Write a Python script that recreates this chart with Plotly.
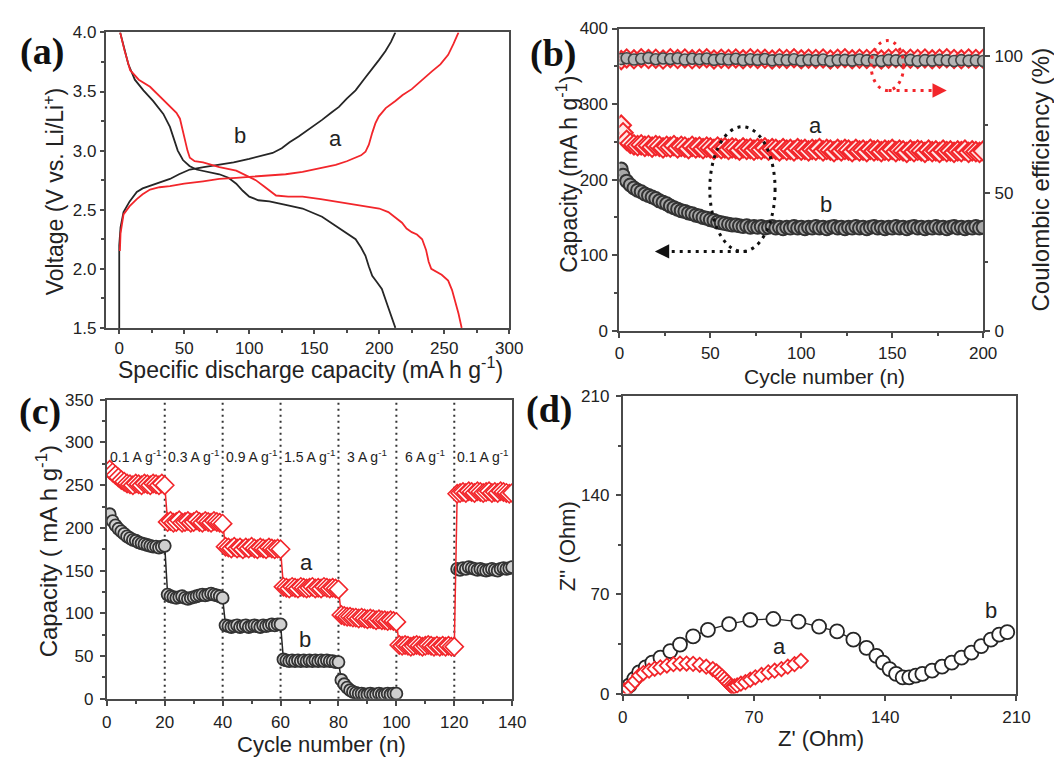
import plotly.graph_objects as go

W, H = 1054, 767
RED = '#f2262b'
BLK = '#262626'
AX = '#4a4a4a'

# ---------------- Panel (a): charge/discharge profiles ----------------
a_dis_b_x = [0.7, 3, 7, 12, 18.6, 26, 33.9, 39, 42, 45, 49, 54, 59.4, 68, 77, 84, 90, 95, 100, 107,
             115.5, 128, 141, 156, 166.5, 175, 181.8, 186, 189.4, 192, 194.6, 198, 202, 207, 210, 212.4]
a_dis_b_y = [4.0, 3.9, 3.73, 3.6, 3.51, 3.42, 3.31, 3.2, 3.1, 3.0, 2.92, 2.87, 2.84, 2.82, 2.8, 2.77, 2.72,
             2.66, 2.61, 2.58, 2.57, 2.54, 2.51, 2.44, 2.36, 2.3, 2.25, 2.18, 2.11, 2.02, 1.94, 1.89, 1.83,
             1.67, 1.58, 1.5]
a_chg_b_x = [0, 0, 1, 3.3, 8, 13.5, 18, 23.7, 31, 39, 46, 54.3, 65, 77, 88, 100, 110, 118, 125, 131, 138,
             146, 156, 163, 169, 175, 181.8, 188, 194.6, 200, 204.7, 209, 212.4]
a_chg_b_y = [1.5, 2.2, 2.35, 2.48, 2.57, 2.65, 2.68, 2.7, 2.73, 2.76, 2.8, 2.84, 2.86, 2.88, 2.9, 2.93,
             2.96, 2.98, 3.02, 3.07, 3.12, 3.18, 3.26, 3.32, 3.37, 3.44, 3.51, 3.6, 3.69, 3.77, 3.84, 3.92, 4.0]
a_dis_a_x = [0.7, 4, 8.4, 15, 23.7, 31, 39, 44, 46.7, 48.5, 50.5, 52.5, 54.3, 58, 64.5, 77, 90, 98, 105,
             111, 115.5, 120.6, 130, 141, 155, 166.5, 180, 192, 200, 207, 212, 217.5, 221, 225, 229, 233,
             236, 238, 240, 243, 248, 253, 256, 258, 261, 263.4]
a_dis_a_y = [4.0, 3.85, 3.68, 3.6, 3.54, 3.46, 3.38, 3.32, 3.27, 3.18, 3.1, 3.0, 2.94, 2.91, 2.9, 2.86,
             2.83, 2.79, 2.75, 2.7, 2.66, 2.62, 2.61, 2.61, 2.59, 2.57, 2.55, 2.53, 2.51, 2.48, 2.44, 2.39,
             2.34, 2.31, 2.29, 2.25, 2.16, 2.06, 2.0, 1.98, 1.95, 1.9, 1.82, 1.74, 1.62, 1.5]
a_chg_a_x = [0.5, 1, 3.3, 8, 13.5, 18, 23.7, 31, 39, 50, 64.5, 77, 90, 103, 115.5, 128, 141, 154, 166.5,
             175, 181.8, 186, 189.4, 192, 194.6, 197, 199.7, 205, 212.4, 218, 225, 232, 240.5, 247, 253,
             257, 261]
a_chg_a_y = [2.15, 2.3, 2.46, 2.53, 2.59, 2.63, 2.67, 2.69, 2.7, 2.72, 2.74, 2.76, 2.77, 2.78, 2.79, 2.8,
             2.82, 2.85, 2.88, 2.91, 2.94, 2.96, 2.99, 3.05, 3.15, 3.23, 3.29, 3.36, 3.42, 3.47, 3.52, 3.59,
             3.67, 3.73, 3.81, 3.9, 4.0]

# ---------------- Panel (b): cycling ----------------
b_cycles = [1] + list(range(2, 201, 2))
b_cap_a = [272, 262, 252, 248, 246, 245, 246, 244, 245, 243, 245,
           244, 242, 244, 243, 245, 242, 244, 243, 241, 244,
           242, 243, 241, 243, 242, 240, 243, 241, 242, 240,
           242, 241, 239, 242, 240, 241, 239, 241, 240, 242,
           239, 241, 240, 238, 241, 239, 240, 238, 241, 239,
           240, 238, 240, 239, 241, 238, 240, 239, 237, 240,
           238, 240, 239, 237, 240, 238, 239, 237, 240, 238,
           239, 237, 239, 238, 240, 237, 239, 238, 236, 239,
           237, 239, 238, 236, 239, 237, 238, 236, 239, 237,
           238, 236, 238, 237, 239, 236, 238, 237, 236, 238]
b_cap_b = [214, 206, 198, 193, 189, 186, 184, 181, 179, 177, 175,
           172, 170, 168, 165, 163, 161, 159, 158, 156, 155,
           153, 152, 150, 149, 147, 146, 144, 143, 142, 141,
           140, 140, 139, 138, 139, 137, 138, 137, 138, 136,
           137, 138, 136, 137, 135, 137, 136, 138, 136, 137,
           135, 137, 136, 138, 136, 137, 135, 137, 138, 136,
           137, 135, 137, 136, 138, 136, 137, 135, 137, 138,
           136, 137, 135, 137, 136, 138, 136, 137, 135, 137,
           138, 136, 137, 135, 137, 136, 138, 136, 137, 135,
           137, 138, 136, 137, 135, 137, 136, 138, 136, 137]
b_ce_cycles = [1] + list(range(4, 201, 4))
b_ce_a = [98.5, 99.1, 98.8, 99.2, 98.9, 99.0, 98.7, 99.2, 98.9, 99.1,
          98.8, 99.0, 99.2, 98.7, 99.0, 98.9, 99.1, 98.8, 99.2, 98.9,
          99.0, 98.7, 99.1, 98.9, 99.2, 98.8, 99.0, 98.9, 99.1, 98.7,
          99.0, 99.2, 98.8, 99.0, 98.9, 99.1, 98.7, 99.0, 99.2, 98.8,
          99.0, 98.9, 99.1, 98.8, 99.0, 99.2, 98.9, 98.8, 99.1, 98.9, 99.0]
b_ce_b = [98.9, 99.2, 98.7, 99.0, 99.3, 98.8, 99.1, 98.9, 99.2, 98.7,
          99.0, 98.8, 99.1, 98.6, 98.9, 98.7, 99.0, 98.5, 98.8, 98.6,
          98.9, 98.4, 98.7, 98.5, 98.8, 98.3, 98.6, 98.4, 98.7, 98.2,
          98.5, 98.6, 98.3, 98.7, 98.4, 98.5, 98.2, 98.6, 98.4, 98.3,
          98.6, 98.2, 98.5, 98.3, 98.6, 98.4, 98.2, 98.5, 98.3, 98.4, 98.2]

# ---------------- Panel (c): rate capability ----------------
c_cycles = list(range(1, 141))
c_cap_a = [268, 265, 262, 259, 256, 254, 252, 251, 250, 252, 251, 250, 252, 251, 250, 252, 251, 250, 252, 250,
           207, 208, 206, 207, 209, 206, 207, 208, 206, 207, 209, 207, 206, 208, 207, 206, 208, 207, 206, 205,
           178, 177, 176, 178, 176, 177, 175, 177, 176, 178, 176, 175, 177, 176, 175, 177, 176, 175, 176, 175,
           131, 130, 129, 131, 130, 129, 131, 130, 129, 130, 131, 129, 130, 129, 131, 130, 129, 130, 129, 128,
           98, 97, 96, 96, 95, 95, 94, 95, 94, 93, 94, 93, 92, 93, 92, 92, 91, 92, 91, 90,
           63, 62, 63, 62, 61, 62, 63, 62, 61, 62, 63, 62, 61, 62, 61, 62, 61, 62, 61, 61,
           240, 241, 242, 241, 243, 242, 241, 243, 242, 241, 242, 243, 241, 242, 241, 243, 242, 241, 240, 241]
c_cap_b = [216, 208, 203, 199, 196, 193, 190, 188, 186, 185, 183, 182, 181, 180, 179, 178, 178, 177, 178, 179,
           122, 120, 119, 118, 119, 120, 118, 117, 118, 119, 120, 121, 122, 121, 122, 123, 122, 121, 120, 118,
           86, 85, 84, 85, 86, 84, 85, 86, 84, 85, 86, 85, 84, 86, 85, 86, 87, 86, 87, 87,
           46, 45, 44, 45, 44, 45, 44, 45, 44, 45, 44, 45, 44, 45, 44, 45, 44, 44, 43, 43,
           22, 17, 13, 10, 8, 7, 6, 6, 5, 5, 6, 5, 5, 6, 5, 5, 6, 5, 6, 6,
           None, None, None, None, None, None, None, None, None, None,
           None, None, None, None, None, None, None, None, None, None,
           152, 151, 153, 152, 154, 153, 152, 151, 152, 151, 150, 151, 152, 151, 150, 152, 153, 152, 153, 154]
c_rate_x = [10, 30, 50, 70, 90, 110, 130]
c_rate_labels = ['0.1 A g<sup>-1</sup>', '0.3 A g<sup>-1</sup>', '0.9 A g<sup>-1</sup>', '1.5 A g<sup>-1</sup>',
                 '3 A g<sup>-1</sup>', '6 A g<sup>-1</sup>', '0.1 A g<sup>-1</sup>']
c_step_x = [20, 40, 60, 80, 100, 120]

# ---------------- Panel (d): Nyquist ----------------
d_b_zr = [0.9, 3.5, 6.1, 8.7, 12.2, 15.7, 20.1, 25.3, 30.5, 37.5, 45.4, 56.7, 68, 80.3, 93.7, 104.7, 114.3,
          123, 130, 135.3, 138.8, 142.3, 145.8, 149.3, 152.8, 156.3, 159.8, 165, 170.3, 175.5, 180.7, 186,
          191.2, 196.4, 200.8, 205.1]
d_b_zi = [1.2, 5.8, 10.4, 15, 18.5, 21.9, 25.4, 30, 34.6, 40.4, 45, 49, 52, 52.7, 50.8, 47.3, 43.9, 38.1,
          32.3, 26.6, 21.9, 17.3, 13.9, 11.5, 11.5, 12.7, 13.9, 16.2, 19, 21.9, 25.4, 28.9, 33.5, 38.1,
          41.6, 43.4]
d_a_zr = [0.9, 2.5, 4.4, 6.5, 8.7, 11, 14, 17, 20, 23.5, 27, 30.5, 34, 37.5, 41, 44.5, 48, 50, 51.5, 53,
          54.2, 55.5, 56.7, 57.8, 58.5, 59.5, 61, 63, 65.4, 68, 70.7, 74, 77.6, 81, 84.6, 88, 91.6, 95]
d_a_zi = [2.3, 3.5, 5.8, 9, 12.7, 14.5, 16.2, 17.5, 18.5, 19.8, 20.8, 21.2, 21.2, 21, 20.3, 19, 17.3, 15.6,
          13.9, 12, 10.4, 8.5, 6.9, 5.5, 4.6, 5, 5.8, 7, 8.1, 9.8, 11.5, 13.2, 15, 16.2, 17.3, 19, 20.8, 23.1]

# ---------------- figure ----------------
def px_dom_x(a, b):
    return [a / W, b / W]

def px_dom_y(top, bottom):
    return [1 - bottom / H, 1 - top / H]

fig = go.Figure()

# (a)
fig.add_trace(go.Scatter(x=a_chg_b_x, y=a_chg_b_y, mode='lines', line=dict(color=BLK, width=1.8), xaxis='x', yaxis='y'))
fig.add_trace(go.Scatter(x=a_dis_b_x, y=a_dis_b_y, mode='lines', line=dict(color=BLK, width=1.8), xaxis='x', yaxis='y'))
fig.add_trace(go.Scatter(x=a_chg_a_x, y=a_chg_a_y, mode='lines', line=dict(color=RED, width=1.8), xaxis='x', yaxis='y'))
fig.add_trace(go.Scatter(x=a_dis_a_x, y=a_dis_a_y, mode='lines', line=dict(color=RED, width=1.8), xaxis='x', yaxis='y'))

# (b)
fig.add_trace(go.Scatter(x=b_ce_cycles, y=b_ce_a, mode='markers', xaxis='x2', yaxis='y5',
                         marker=dict(symbol='diamond', size=14, color='#ffe3e3', line=dict(color=RED, width=2))))
fig.add_trace(go.Scatter(x=b_ce_cycles, y=b_ce_b, mode='markers', xaxis='x2', yaxis='y5',
                         marker=dict(symbol='circle', size=11, color='#b5b5b5', line=dict(color='#444', width=1.6))))
fig.add_trace(go.Scatter(x=b_cycles, y=b_cap_a, mode='markers', xaxis='x2', yaxis='y2',
                         marker=dict(symbol='diamond', size=15, color='#ffe8e8', line=dict(color=RED, width=2))))
fig.add_trace(go.Scatter(x=b_cycles, y=b_cap_b, mode='markers', xaxis='x2', yaxis='y2',
                         marker=dict(symbol='circle', size=13, color='#a8a8a8', line=dict(color='#333', width=2))))

# (c)
fig.add_trace(go.Scatter(x=c_cycles, y=c_cap_b, mode='lines+markers', xaxis='x3', yaxis='y3',
                         line=dict(color=BLK, width=1.5),
                         marker=dict(symbol='circle', size=12, color='#d0d0d0', line=dict(color='#333', width=1.8))))
fig.add_trace(go.Scatter(x=c_cycles, y=c_cap_a, mode='lines+markers', xaxis='x3', yaxis='y3',
                         line=dict(color=RED, width=1.5),
                         marker=dict(symbol='diamond', size=14, color='white', line=dict(color=RED, width=1.6))))

# (d)
fig.add_trace(go.Scatter(x=d_b_zr, y=d_b_zi, mode='lines+markers', xaxis='x4', yaxis='y4',
                         line=dict(color=BLK, width=1.2),
                         marker=dict(symbol='circle', size=14, color='white', line=dict(color=BLK, width=1.8))))
fig.add_trace(go.Scatter(x=d_a_zr, y=d_a_zi, mode='lines+markers', xaxis='x4', yaxis='y4',
                         line=dict(color=RED, width=1.2),
                         marker=dict(symbol='diamond', size=11, color='white', line=dict(color=RED, width=1.8))))

TICKFONT = dict(family='Arial', size=17, color='#222')

def ax(domain, rng, dtick, minor, anchor, standoff=0, **kw):
    d = dict(domain=domain, range=rng, dtick=dtick, tick0=0, autorange=False,
             anchor=anchor, showline=True, linecolor=AX, linewidth=2, mirror=True,
             ticks='outside', ticklen=5, tickwidth=1.5, tickcolor=AX, showgrid=False, zeroline=False,
             tickfont=TICKFONT, ticklabelstandoff=standoff,
             minor=dict(dtick=minor, ticks='outside', ticklen=3, tickwidth=1.5, tickcolor=AX, showgrid=False))
    d.update(kw)
    return d

fig.update_layout(
    width=W, height=H, autosize=False, margin=dict(l=0, r=0, t=0, b=0),
    paper_bgcolor='white', plot_bgcolor='white', showlegend=False,
    font=dict(family='Arial', color='#222'),
    xaxis=ax(px_dom_x(103, 515), [-10.3, 300], 50, 25, 'y', ticklen=4),
    yaxis=ax(px_dom_y(24, 327), [1.5, 4.0], 0.5, 0.25, 'x', tickformat='.1f', tick0=1.5, ticklen=4),
    xaxis2=ax(px_dom_x(627.5, 999), [0, 200], 50, 25, 'y2', standoff=1),
    yaxis2=ax(px_dom_y(20, 330), [0, 400], 100, 50, 'x2', standoff=1),
    yaxis5=ax(px_dom_y(20, 330), [0, 110], 50, 25, 'x2', standoff=1, overlaying='y2', side='right', mirror=False,
              title=dict(text='Coulombic efficiency (%)', standoff=14, font=dict(family='Arial', size=24, color='#222'))),
    xaxis3=ax(px_dom_x(104, 518), [0, 140], 20, 10, 'y3', standoff=2),
    yaxis3=ax(px_dom_y(400.7, 707.3), [0, 350], 50, 25, 'x3', standoff=3),
    xaxis4=ax(px_dom_x(631, 1033), [0, 210], 70, 35, 'y4', standoff=2),
    yaxis4=ax(px_dom_y(397, 702), [0, 210], 70, 35, 'x4', standoff=3),
)

shapes = []
for xv in c_step_x:
    shapes.append(dict(type='line', xref='x3', yref='y3', x0=xv, x1=xv, y0=0, y1=350, layer='below',
                       line=dict(color='#333', width=2, dash='2px,4px')))
# dotted ellipses and arrows in (b)
shapes.append(dict(type='circle', xref='x2', yref='y2', x0=49.7, x1=85.6, y0=105, y1=270,
                   line=dict(color='#111', width=3, dash='3px,5px')))
shapes.append(dict(type='line', xref='x2', yref='y2', x0=70, x1=25, y0=105, y1=105,
                   line=dict(color='#111', width=3, dash='3px,5px')))
shapes.append(dict(type='circle', xref='x2', yref='y2', x0=138.4, x1=156.3, y0=318, y1=384,
                   line=dict(color=RED, width=3, dash='3px,5px')))
shapes.append(dict(type='line', xref='x2', yref='y2', x0=148, x1=174, y0=318, y1=318,
                   line=dict(color=RED, width=3, dash='3px,5px')))
fig.update_layout(shapes=shapes)

ann = []
def A(x, y, text, size=21, angle=0, xref='paper', yref='paper', family='Arial', color='#222', bold=False):
    if xref == 'paper':
        x = x / W
        y = 1 - y / H
    ann.append(dict(x=x, y=y, xref=xref, yref=yref, text=('<b>%s</b>' % text) if bold else text,
                    showarrow=False, textangle=angle, xanchor='center', yanchor='middle',
                    font=dict(family=family, size=size, color=color)))

# panel letters
A(38, 44, '(a)', size=38, family='Liberation Serif', color='#111', bold=True)
A(560, 46, '(b)', size=38, family='Liberation Serif', color='#111', bold=True)
A(36, 413, '(c)', size=38, family='Liberation Serif', color='#111', bold=True)
A(556, 411, '(d)', size=38, family='Liberation Serif', color='#111', bold=True)

# axis titles
A(312, 368, 'Specific discharge capacity (mA h g<sup>-1</sup>)', size=23)
A(50, 187, 'Voltage (V vs. Li/Li<sup>+</sup>)', size=23, angle=-90)
A(574, 170, 'Capacity (mA h g<sup>-1</sup>)', size=23, angle=-90)
A(837, 377, 'Cycle number (n)', size=21)
A(43, 556, 'Capacity ( mA h g<sup>-1</sup>)', size=24, angle=-90)
A(323, 754, 'Cycle number (n)', size=22)
A(574, 551, "Z'' (Ohm)", size=22, angle=-90)
A(833, 748, "Z' (Ohm)", size=22)

# in-plot labels
A(92.6, 3.13, 'b', size=22, xref='x', yref='y')
A(166.6, 3.1, 'a', size=22, xref='x', yref='y')
A(108, 272, 'a', size=22, xref='x2', yref='y2')
A(113.7, 167, 'b', size=22, xref='x2', yref='y2')
A(68.8, 160, 'a', size=22, xref='x3', yref='y3')
A(68.3, 69.5, 'b', size=22, xref='x3', yref='y3')
A(83.8, 33.5, 'a', size=22, xref='x4', yref='y4')
A(196.4, 58.9, 'b', size=22, xref='x4', yref='y4')
for xv, t in zip(c_rate_x, c_rate_labels):
    A(xv, 284, t, size=14, xref='x3', yref='y3')

# arrow heads
ann.append(dict(x=19.5, y=105, xref='x2', yref='y2', ax=14, ay=0, text='', showarrow=True,
                arrowhead=2, arrowsize=1.3, arrowwidth=2.2, arrowcolor='#111'))
ann.append(dict(x=180, y=318, xref='x2', yref='y2', ax=-14, ay=0, text='', showarrow=True,
                arrowhead=2, arrowsize=1.3, arrowwidth=2.2, arrowcolor=RED))
fig.update_layout(annotations=ann)

fig.write_html('out.html')
